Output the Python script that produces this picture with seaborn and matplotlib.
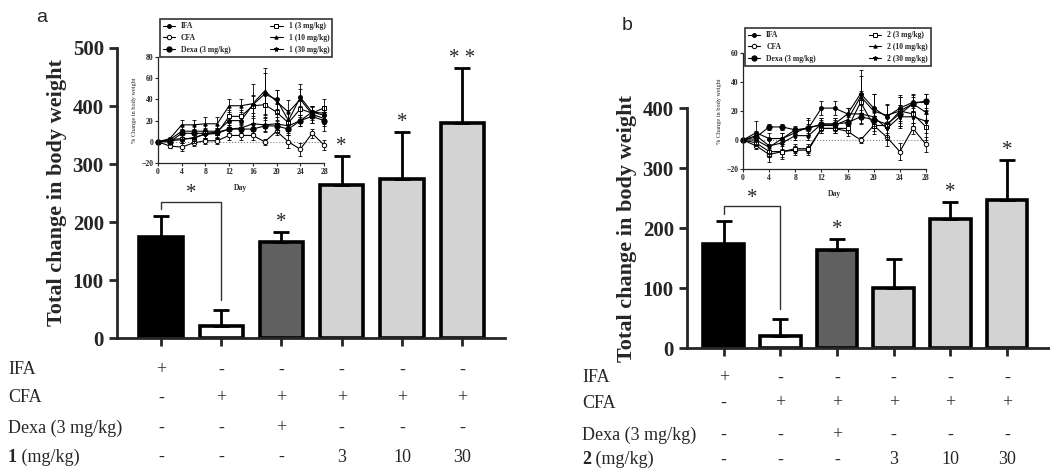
import matplotlib
matplotlib.use("Agg")
import matplotlib.pyplot as plt
import matplotlib.transforms as mtransforms
import seaborn as sns
import pandas as pd

# main bar data
groups = ['IFA', 'CFA', 'Dexa', 'd3', 'd10', 'd30']
bar_colors = ['black', 'white', '#606060', '#d3d3d3', '#d3d3d3', '#d3d3d3']

a_means = [175, 20, 165, 263, 274, 370]
a_err = [36, 29, 17, 50, 82, 96]
a_stars = ['', '', '*', '*', '*', '* *']

b_means = [173, 20, 164, 100, 215, 247]
b_err = [39, 29, 18, 49, 28, 66]
b_stars = ['', '', '*', '', '*', '*']

# treatment table under the bars
ifa_row = ['+', '-', '-', '-', '-', '-']
cfa_row = ['-', '+', '+', '+', '+', '+']
dexa_row = ['-', '-', '+', '-', '-', '-']
dose_row = ['-', '-', '-', '3', '10', '30']

# inset time course (% change in body weight)
days = [0, 2, 4, 6, 8, 10, 12, 14, 16, 18, 20, 22, 24, 26, 28]

a_ifa = [0, 2, 10, 10, 10, 10, 20, 20, 35, 45, 40, 20, 42, 28, 25]
a_ifa_err = [1, 2, 6, 6, 6, 6, 6, 6, 8, 20, 9, 10, 8, 6, 8]
a_cfa = [0, -4, -5, -1, 1, 1, 6, 6, 6, 0, 10, 0, -7, 8, -3]
a_cfa_err = [1, 2, 4, 3, 3, 3, 4, 4, 4, 3, 4, 6, 6, 4, 5]
a_dexa = [0, 0, 8, 8, 8, 9, 12, 12, 12, 15, 15, 12, 20, 24, 20]
a_dexa_err = [1, 2, 4, 4, 4, 4, 4, 4, 4, 6, 6, 6, 5, 6, 5]
a_c3 = [0, 2, 3, 3, 8, 8, 24, 24, 34, 35, 28, 18, 31, 27, 32]
a_c3_err = [1, 2, 4, 4, 5, 5, 6, 6, 10, 12, 8, 10, 8, 6, 8]
a_c10 = [0, 3, 16, 16, 17, 17, 34, 34, 36, 48, 38, 28, 40, 26, 22]
a_c10_err = [1, 2, 5, 5, 6, 6, 6, 6, 19, 22, 11, 11, 15, 8, 12]
a_c30 = [0, 1, 2, 4, 7, 8, 12, 13, 17, 16, 17, 15, 20, 28, 27]
a_c30_err = [1, 2, 3, 3, 4, 4, 4, 4, 5, 6, 6, 5, 5, 6, 7]

b_ifa = [0, 5, 1, 1, 7, 8, 22, 22, 18, 32, 22, 16, 22, 26, 26]
b_ifa_err = [1, 8, 4, 4, 3, 6, 5, 5, 4, 16, 10, 8, 9, 6, 6]
b_cfa = [0, -4, -10, -8, -7, -7, 8, 8, 6, 0, 10, 2, -8, 8, -3]
b_cfa_err = [1, 2, 5, 5, 3, 3, 3, 3, 3, 2, 4, 6, 6, 4, 5]
b_dexa = [0, 2, 9, 9, 7, 8, 11, 11, 12, 16, 14, 11, 18, 25, 27]
b_dexa_err = [1, 2, 2, 2, 2, 3, 4, 4, 4, 5, 6, 6, 6, 5, 5]
b_c3 = [0, -2, -8, -8, -6, -6, 8, 8, 8, 26, 10, 10, 20, 18, 9]
b_c3_err = [1, 2, 4, 4, 3, 3, 3, 3, 3, 8, 6, 8, 10, 6, 9]
b_c10 = [0, 0, -5, 1, 5, 9, 10, 10, 14, 30, 20, 17, 20, 25, 19]
b_c10_err = [1, 3, 6, 4, 3, 6, 4, 4, 4, 14, 12, 8, 10, 6, 6]
b_c30 = [0, 3, -4, -2, 3, 3, 11, 11, 18, 18, 16, 8, 16, 16, 13]
b_c30_err = [1, 3, 5, 4, 3, 3, 4, 4, 4, 6, 6, 8, 8, 6, 8]

sns.set_style('ticks')
plt.rcParams['font.family'] = 'serif'
plt.rcParams['font.serif'] = ['Liberation Serif', 'DejaVu Serif']

fig = plt.figure(figsize=(10.5, 4.75), dpi=100)

# marker styles: (marker, size, facecolor)
styles = [('o', 2.8, 'black'), ('o', 3.2, 'white'), ('o', 3.8, 'black'),
          ('s', 3.0, 'white'), ('^', 2.4, 'black'), ('*', 3.6, 'black')]


def main_panel(rect, means, err, stars, ymax, xlim, letter, letter_xy, label_x, row_ys, drug):
    ax = fig.add_axes(rect)
    df = pd.DataFrame({'group': groups, 'value': means})
    sns.barplot(data=df, x='group', y='value', hue='group', order=groups,
                palette=bar_colors, legend=False, edgecolor='black',
                linewidth=2.6, width=0.72, ax=ax)
    pos = list(range(len(groups)))
    ax.errorbar(pos, means, yerr=[[0] * len(err), err], fmt='none',
                ecolor='black', elinewidth=2, capsize=6, capthick=2, zorder=1)
    for i, s in enumerate(stars):
        if s:
            ax.annotate(s, (i, means[i] + err[i]), xytext=(0, 0),
                        textcoords='offset points', ha='center', va='bottom',
                        fontsize=15)
    # bracket IFA vs CFA
    top = means[0] + err[0] + 24
    ax.plot([0, 0, 1, 1], [means[0] + err[0] + 12, top, top, means[1] + err[1] + 16],
            color='#333333', lw=1)
    ax.annotate('*', (0.5, top), xytext=(0, -1), textcoords='offset points',
                ha='center', va='bottom', fontsize=15)

    ax.set_ylim(0, ymax)
    ax.set_xlim(*xlim)
    ax.set_yticks(range(0, ymax + 1, 100))
    ax.set_xlabel('')
    ax.set_xticklabels([])
    ax.set_ylabel('Total change in body weight', fontsize=16, fontweight='bold')
    ax.tick_params(axis='both', width=2, length=6)
    ax.tick_params(axis='y', labelsize=15)
    for t in ax.get_yticklabels():
        t.set_fontweight('bold')
    for sp in ['left', 'bottom']:
        ax.spines[sp].set_linewidth(2)
    sns.despine(ax=ax)

    trans = mtransforms.blended_transform_factory(ax.transData, fig.transFigure)
    rows = [('IFA', ifa_row), ('CFA', cfa_row), ('Dexa (3 mg/kg)', dexa_row)]
    for (name, vals), y in zip(rows, row_ys[:3]):
        fig.text(label_x, y, name, fontsize=13, va='center')
        for i, v in enumerate(vals):
            ax.text(i, y, v, transform=trans, ha='center', va='center', fontsize=13)
    t = fig.text(label_x, row_ys[3], drug, fontsize=13, va='center', fontweight='bold')
    ax.annotate(' (mg/kg)', xy=(1, 0), xycoords=t, va='bottom', fontsize=13)
    for i, v in enumerate(dose_row):
        ax.text(i, row_ys[3], v, transform=trans, ha='center', va='center', fontsize=13)

    fig.text(letter_xy[0], letter_xy[1], letter, fontsize=14, family='Liberation Sans',
             va='center')
    return ax


def inset(rect, series, errs, names, ylim, legend_box):
    ax = fig.add_axes(rect)
    ax.patch.set_alpha(0)
    ax.axhline(0, ls=':', color='gray', lw=0.8, zorder=0)
    for vals, e, name, (m, ms, fc) in zip(series, errs, names, styles):
        ax.errorbar(days, vals, yerr=e, fmt='none', ecolor='black',
                    elinewidth=0.6, capsize=1.3, capthick=0.6, clip_on=False)
        sns.lineplot(x=days, y=vals, ax=ax, color='black', lw=0.8, marker=m,
                     ms=ms, mfc=fc, mec='black', mew=0.7, label=name, clip_on=False)
    ax.set_xlim(0, 28)
    ax.set_ylim(*ylim)
    ax.set_xticks(range(0, 29, 4))
    ax.set_yticks(range(ylim[0], ylim[1] + 1, 20))
    ax.tick_params(labelsize=5.5, width=0.8, length=2, pad=1.5)
    for t in ax.get_xticklabels() + ax.get_yticklabels():
        t.set_fontweight('bold')
    ax.set_xlabel('Day', fontsize=5.5, fontweight='bold', labelpad=6)
    ax.set_ylabel('% Change in body weight', fontsize=4.5, labelpad=3)
    for sp in ['left', 'bottom']:
        ax.spines[sp].set_linewidth(0.9)
    sns.despine(ax=ax)
    leg = ax.legend(loc='lower left', bbox_to_anchor=legend_box, mode='expand',
                    ncol=2, frameon=True, fancybox=False,
                    handlelength=1.6, borderaxespad=0, columnspacing=1.0,
                    labelspacing=0.5, prop={'weight': 'bold', 'size': 5.5})
    leg.get_frame().set_edgecolor('black')
    leg.get_frame().set_linewidth(1.2)
    return ax


# panel a
main_panel([117 / 1050, 137 / 475, 388 / 1050, 290 / 475], a_means, a_err,
           a_stars, 500, (-0.73, 5.71), 'a', (36 / 1050, 1 - 18 / 475), 8 / 1050,
           [1 - 370 / 475, 1 - 398 / 475, 1 - 428 / 475, 1 - 457 / 475], '1')

# panel b
main_panel([687 / 1050, 127 / 475, 363 / 1050, 240 / 475], b_means, b_err,
           b_stars, 400, (-0.65, 5.76), 'b', (622 / 1050, 1 - 25 / 475), 582 / 1050,
           [1 - 378 / 475, 1 - 403 / 475, 1 - 435 / 475, 1 - 460 / 475], '2')

inset([158 / 1050, 312 / 475, 166 / 1050, 106 / 475],
      [a_ifa, a_cfa, a_dexa, a_c3, a_c10, a_c30],
      [a_ifa_err, a_cfa_err, a_dexa_err, a_c3_err, a_c10_err, a_c30_err],
      ['IFA', 'CFA', 'Dexa (3 mg/kg)', '1 (3 mg/kg)', '1 (10 mg/kg)', '1 (30 mg/kg)'],
      (-20, 80), (0.01, 1.0, 1.04, 0.42))

inset([743 / 1050, 306 / 475, 183 / 1050, 116 / 475],
      [b_ifa, b_cfa, b_dexa, b_c3, b_c10, b_c30],
      [b_ifa_err, b_cfa_err, b_dexa_err, b_c3_err, b_c10_err, b_c30_err],
      ['IFA', 'CFA', 'Dexa (3 mg/kg)', '2 (3 mg/kg)', '2 (10 mg/kg)', '2 (30 mg/kg)'],
      (-20, 60), (0.01, 0.888, 1.017, 0.457))

fig.savefig('out.png', dpi=100)
